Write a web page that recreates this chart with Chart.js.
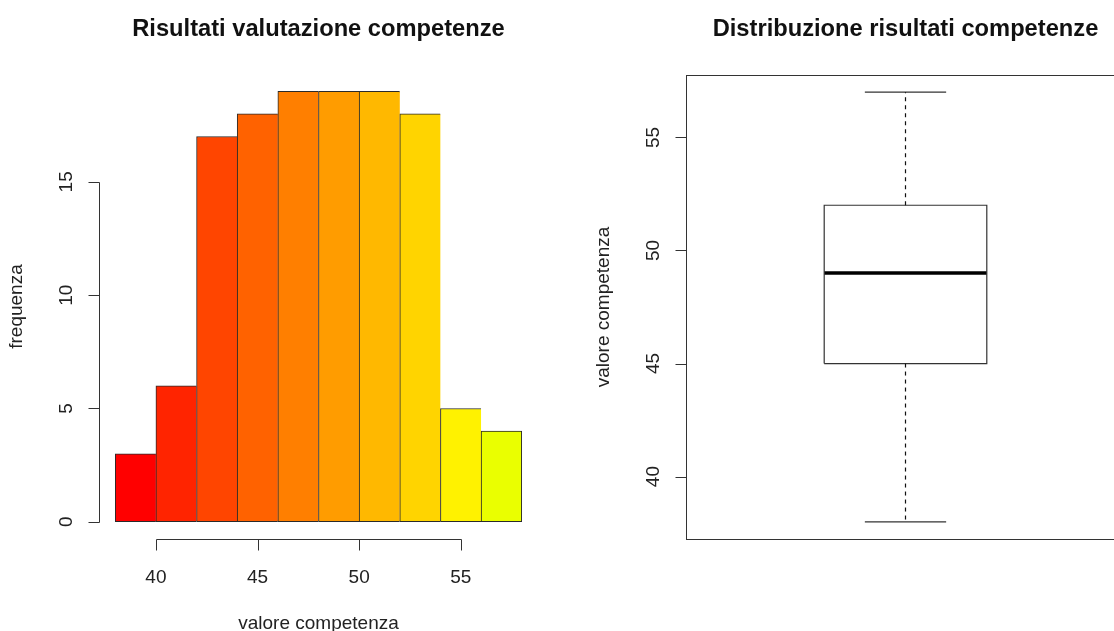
<!DOCTYPE html>
<html>
<head>
<meta charset="utf-8">
<script src="https://cdn.jsdelivr.net/npm/chart.js@4.4.1/dist/chart.umd.min.js"></script>
<style>
  html, body { margin: 0; padding: 0; background: #fff; }
  body { width: 1114px; height: 631px; overflow: hidden; position: relative; }
  canvas { position: absolute; top: 0; }
  #hist { left: 0; }
  #box { left: 557px; }
</style>
</head>
<body>
<canvas id="hist" width="557" height="631"></canvas>
<canvas id="box" width="580" height="631"></canvas>
<script>
// histogram data
const binStarts = [38, 40, 42, 44, 46, 48, 50, 52, 54, 56];
const binWidth = 2;
const frequencies = [3, 6, 17, 18, 19, 19, 19, 18, 5, 4];
const binColors = ["#FF0000", "#FF2400", "#FF4500", "#FF6200", "#FF7F00", "#FF9C00", "#FFB800", "#FFD400", "#FFF200", "#EAFF00"];
const histXTicks = [40, 45, 50, 55];
const histYTicks = [0, 5, 10, 15];

// boxplot data: min, q1, median, q3, max
const boxStats = [38, 45, 49, 52, 57];
const boxYTicks = [40, 45, 50, 55];

const FONT = "'Liberation Sans', Arial, sans-serif";
const INK = "#222";
const LINE = "#333";

// draws R-style axes, labels and titles from the chart's own scales
const rAxes = {
	id: "rAxes",
	afterDraw(chart, args, opts) {
		const ctx = chart.ctx;
		const { left, right, top, bottom } = chart.chartArea;
		const xs = chart.scales.x;
		const ys = chart.scales.y;
		ctx.save();
		ctx.strokeStyle = LINE;
		ctx.lineWidth = 1;
		ctx.fillStyle = INK;

		if (opts.frame) {
			ctx.strokeRect(Math.round(left) + 0.5, Math.round(top) + 0.5, Math.round(right - left), Math.round(bottom - top));
		}

		// x axis
		const xt = opts.xTicks;
		if (xt.length) {
			const ay = Math.round(bottom) + 0.5;
			ctx.beginPath();
			ctx.moveTo(Math.round(xs.getPixelForValue(xt[0])) + 0.5, ay);
			ctx.lineTo(Math.round(xs.getPixelForValue(xt[xt.length - 1])) + 0.5, ay);
			xt.forEach((v) => {
				const px = Math.round(xs.getPixelForValue(v)) + 0.5;
				ctx.moveTo(px, ay);
				ctx.lineTo(px, ay + 11);
			});
			ctx.stroke();
			ctx.font = "19px " + FONT;
			ctx.textAlign = "center";
			ctx.textBaseline = "alphabetic";
			xt.forEach((v) => ctx.fillText(String(v), xs.getPixelForValue(v), bottom + 43.5));
		}

		// y axis
		const yt = opts.yTicks;
		const ax = Math.round(left) + 0.5;
		ctx.beginPath();
		ctx.moveTo(ax, Math.round(ys.getPixelForValue(yt[0])) + 0.5);
		ctx.lineTo(ax, Math.round(ys.getPixelForValue(yt[yt.length - 1])) + 0.5);
		yt.forEach((v) => {
			const py = Math.round(ys.getPixelForValue(v)) + 0.5;
			ctx.moveTo(ax, py);
			ctx.lineTo(ax - 11, py);
		});
		ctx.stroke();
		ctx.font = "19px " + FONT;
		ctx.textAlign = "center";
		ctx.textBaseline = "middle";
		yt.forEach((v) => {
			ctx.save();
			ctx.translate(left - 33, ys.getPixelForValue(v));
			ctx.rotate(-Math.PI / 2);
			ctx.fillText(String(v), 0, 1);
			ctx.restore();
		});

		// axis titles
		const cx = (left + right) / 2;
		const cy = (top + bottom) / 2;
		if (opts.xTitle) {
			ctx.textBaseline = "alphabetic";
			ctx.fillText(opts.xTitle, cx, bottom + 90);
		}
		if (opts.yTitle) {
			ctx.save();
			ctx.translate(left - 82, cy);
			ctx.rotate(-Math.PI / 2);
			ctx.textBaseline = "middle";
			ctx.fillText(opts.yTitle, 0, 0);
			ctx.restore();
		}

		// main title
		ctx.font = "bold 23.7px " + FONT;
		ctx.fillStyle = "#111";
		ctx.textBaseline = "alphabetic";
		ctx.fillText(opts.title, cx, 36);
		ctx.restore();
	},
};

const hiddenScale = { display: false, offset: false, grid: { display: false } };

new Chart(document.getElementById("hist"), {
	type: "bar",
	data: {
		datasets: [
			{
				data: binStarts.map((s, i) => ({ x: s + binWidth / 2, y: frequencies[i] })),
				backgroundColor: binColors,
				borderColor: "#2a2a2a",
				borderSkipped: false,
				borderWidth: (c) => ({ top: 1, bottom: 1, left: 1, right: c.dataIndex === frequencies.length - 1 ? 1 : 0 }),
				barPercentage: 1,
				categoryPercentage: 1,
			},
		],
	},
	options: {
		responsive: false,
		animation: false,
		layout: { padding: { left: 99, right: 19, top: 74, bottom: 92 } },
		scales: {
			x: { ...hiddenScale, type: "linear", min: 37.2, max: 58.8 },
			y: { ...hiddenScale, type: "linear", min: -0.76, max: 19.76 },
		},
		plugins: {
			legend: { display: false },
			tooltip: { enabled: false },
			rAxes: {
				title: "Risultati valutazione competenze",
				xTitle: "valore competenza",
				yTitle: "frequenza",
				xTicks: histXTicks,
				yTicks: histYTicks,
				frame: false,
			},
		},
	},
	plugins: [rAxes],
});

const [bMin, bQ1, bMed, bQ3, bMax] = boxStats;
const boxHalf = 0.2;
const capHalf = 0.1;
const seg = (pts, extra) => ({
	data: pts.map(([x, y]) => ({ x, y })),
	borderColor: LINE,
	borderWidth: 1.2,
	pointRadius: 0,
	fill: false,
	tension: 0,
	borderCapStyle: "butt",
	...extra,
});

new Chart(document.getElementById("box"), {
	type: "line",
	data: {
		datasets: [
			seg([[1, bQ3], [1, bMax]], { borderDash: [4, 4], borderColor: "#111" }),
			seg([[1, bQ1], [1, bMin]], { borderDash: [4, 4], borderColor: "#111" }),
			seg([[1 - capHalf, bMax], [1 + capHalf, bMax]]),
			seg([[1 - capHalf, bMin], [1 + capHalf, bMin]]),
			seg([[1 - boxHalf, bQ1], [1 + boxHalf, bQ1], [1 + boxHalf, bQ3], [1 - boxHalf, bQ3], [1 - boxHalf, bQ1]], { borderJoinStyle: "miter" }),
			seg([[1 - boxHalf, bMed], [1 + boxHalf, bMed]], { borderWidth: 3.5, borderColor: "#000" }),
		],
	},
	options: {
		responsive: false,
		animation: false,
		layout: { padding: { left: 129, right: 12, top: 75, bottom: 92 } },
		scales: {
			x: { ...hiddenScale, type: "linear", min: 0.46, max: 1.54 },
			y: { ...hiddenScale, type: "linear", min: 37.24, max: 57.76 },
		},
		plugins: {
			legend: { display: false },
			tooltip: { enabled: false },
			rAxes: {
				title: "Distribuzione risultati competenze",
				yTitle: "valore competenza",
				xTicks: [],
				yTicks: boxYTicks,
				frame: true,
			},
		},
	},
	plugins: [rAxes],
});
</script>
</body>
</html>
